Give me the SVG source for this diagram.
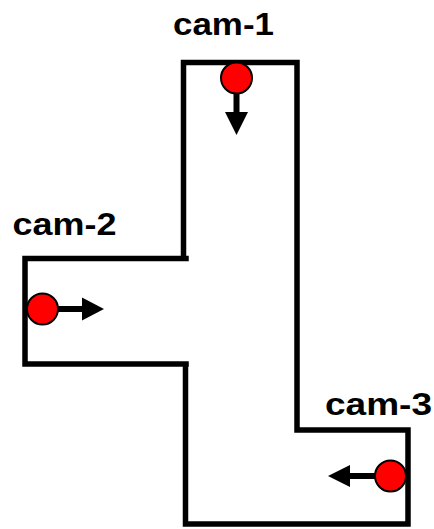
<svg xmlns="http://www.w3.org/2000/svg" width="434" height="529" viewBox="0 0 434 529">
<style>
.wall{stroke:#000;stroke-width:5.5;fill:none;stroke-linecap:square}
.cam{fill:#ff0000;stroke:#000;stroke-width:2}
.shaft{stroke:#000;stroke-width:6}
.head{fill:#000}
.lbl{font-family:"Liberation Sans",Arial,sans-serif;font-weight:bold;font-size:32px;fill:#000}
</style>
<rect width="434" height="529" fill="#fff"/>
<g id="walls">
<polyline class="wall" points="183.5,256 183.5,62.5 297,62.5 297,430 408,430 408,524 185.5,524 185.5,366"/>
<polyline class="wall" points="186,258.5 25,258.5 25,364 186,364"/>
</g>
<g id="cam-1">
<text class="lbl" x="173" y="34.5" textLength="101" lengthAdjust="spacingAndGlyphs">cam-1</text>
<line class="shaft" x1="236.5" y1="90" x2="236.5" y2="114"/>
<polygon class="head" points="225,112 248,112 236.5,135"/>
<circle class="cam" cx="236.5" cy="78" r="15.5"/>
</g>
<g id="cam-2">
<text class="lbl" x="12.5" y="234.5" textLength="104" lengthAdjust="spacingAndGlyphs">cam-2</text>
<line class="shaft" x1="50" y1="309" x2="84" y2="309"/>
<polygon class="head" points="82,297.5 82,320.5 104,309"/>
<circle class="cam" cx="42.5" cy="309" r="15.5"/>
</g>
<g id="cam-3">
<text class="lbl" x="325" y="414.5" textLength="107" lengthAdjust="spacingAndGlyphs">cam-3</text>
<line class="shaft" x1="380" y1="476" x2="348" y2="476"/>
<polygon class="head" points="350,465 350,487 328,476"/>
<circle class="cam" cx="390.5" cy="476" r="15.5"/>
</g>
</svg>
